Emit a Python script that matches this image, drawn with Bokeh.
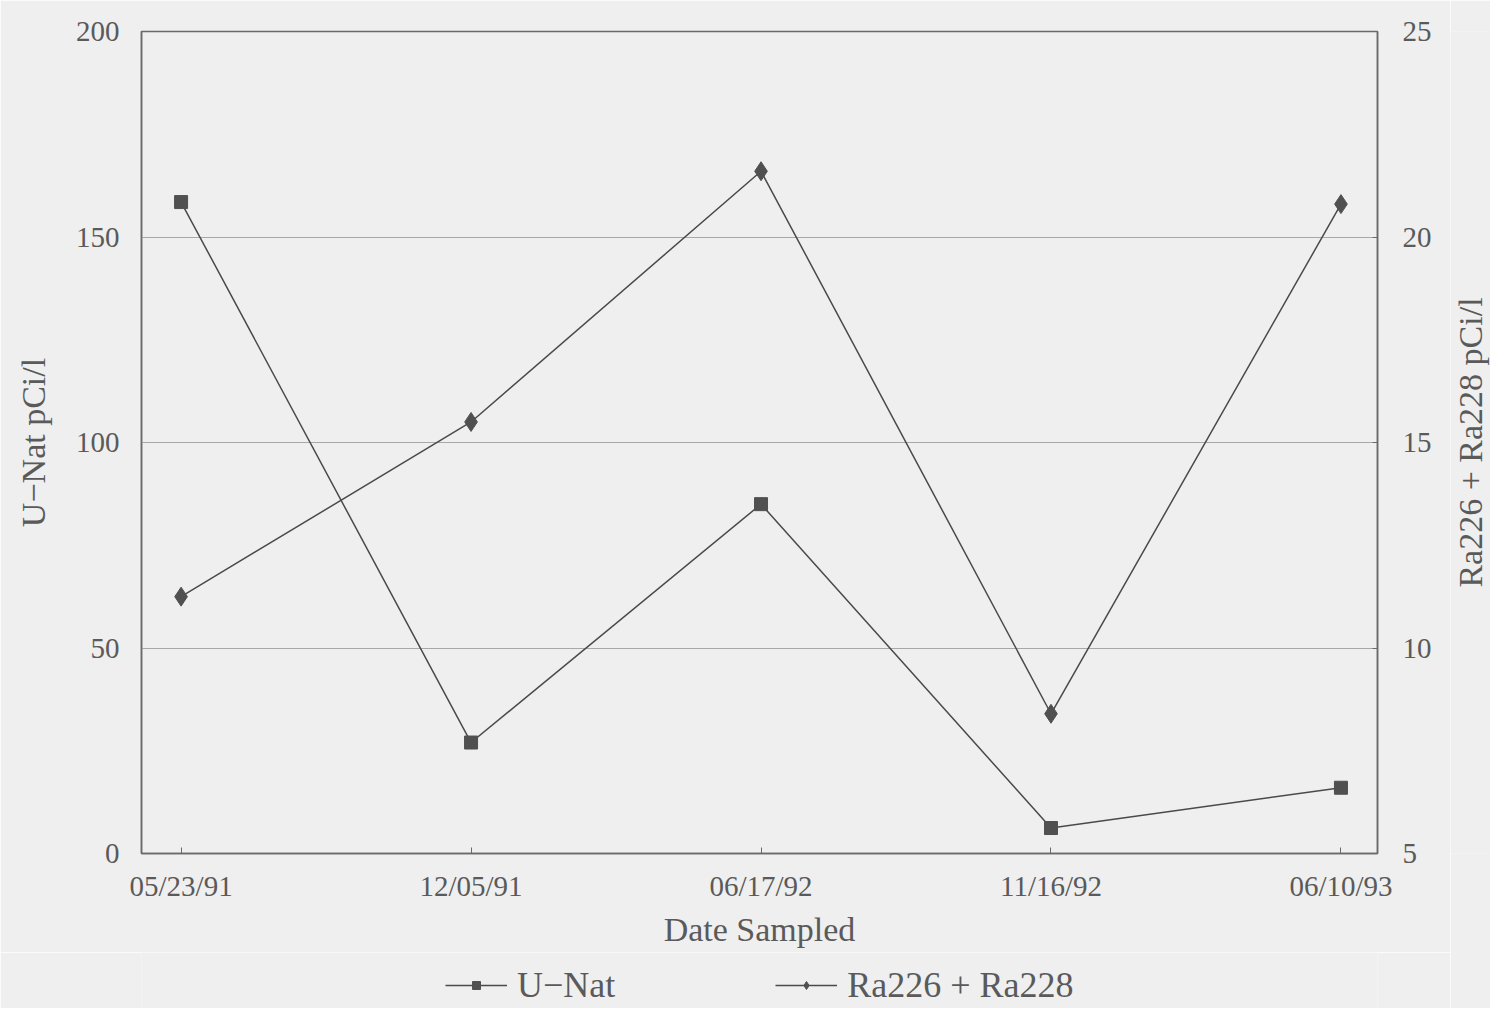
import math
from bokeh.plotting import figure
from bokeh.layouts import column, row
from bokeh.models import Range1d, LinearAxis, FixedTicker, Legend, LegendItem, Label
from bokeh.embed import file_html
from bokeh.resources import INLINE

dates = ["05/23/91", "12/05/91", "06/17/92", "11/16/92", "06/10/93"]
u_nat = [158.5, 27, 85, 6.2, 16]
ra = [11.25, 15.5, 21.6, 8.4, 20.8]
left_ticks = [0, 50, 100, 150, 200]
right_ticks = [5, 10, 15, 20, 25]

xs = list(range(len(dates)))
FONT = "Liberation Serif"
TXT = "#5a5a5a"
LINE = "#4a4a4a"
MARK = "#505050"
BG = "#efefef"

p = figure(width=1450, height=952, output_backend="svg", toolbar_location=None,
           x_range=Range1d(-0.1365, 4.126), y_range=Range1d(0, 200),
           background_fill_color=BG, border_fill_color=BG,
           min_border_left=141, min_border_right=73, min_border_top=31, min_border_bottom=99)
p.extra_y_ranges = {"ra": Range1d(5, 25)}

p.outline_line_color = "#6a6a6a"
p.outline_line_width = 1.5
p.xgrid.visible = False
p.ygrid.ticker = FixedTicker(ticks=left_ticks)
p.ygrid.grid_line_color = "#a8a8a8"
p.ygrid.grid_line_width = 1.2

# x axis
xa = p.xaxis[0]
xa.ticker = FixedTicker(ticks=xs)
xa.major_label_overrides = {i: d for i, d in enumerate(dates)}
xa.axis_label = "Date Sampled"
xa.minor_tick_line_color = None
xa.major_tick_in = 6
xa.major_tick_out = 0
xa.major_tick_line_color = "#6a6a6a"
xa.axis_line_color = "#6a6a6a"
xa.axis_line_width = 1.5
xa.major_label_standoff = 16
xa.axis_label_standoff = 6

# left axis
ya = p.yaxis[0]
ya.ticker = FixedTicker(ticks=left_ticks)
ya.axis_label = "U\u2212Nat pCi/l"
ya.minor_tick_line_color = None
ya.major_tick_in = 0
ya.major_tick_out = 0
ya.axis_line_color = "#6a6a6a"
ya.axis_line_width = 1.5
ya.major_label_standoff = 22
ya.axis_label_standoff = 21

# right axis (its title is drawn in the narrow strip to the right so it reads bottom-to-top)
ra_axis = LinearAxis(y_range_name="ra", ticker=FixedTicker(ticks=right_ticks))
ra_axis.minor_tick_line_color = None
ra_axis.major_tick_in = 5
ra_axis.major_tick_out = 0
ra_axis.major_tick_line_color = "#6a6a6a"
ra_axis.axis_line_color = "#6a6a6a"
ra_axis.axis_line_width = 1.5
ra_axis.major_label_standoff = 25
p.add_layout(ra_axis, "right")

for ax in [xa, ya, ra_axis]:
    ax.major_label_text_font = FONT
    ax.major_label_text_font_size = "29px"
    ax.major_label_text_color = TXT
    ax.axis_label_text_font = FONT
    ax.axis_label_text_font_size = "34px"
    ax.axis_label_text_font_style = "normal"
    ax.axis_label_text_color = TXT

# series
p.line(xs, u_nat, line_color=LINE, line_width=1.5)
p.scatter(xs, u_nat, marker="square", size=13, fill_color=MARK, line_color=MARK)
p.line(xs, ra, y_range_name="ra", line_color=LINE, line_width=1.5)
p.scatter(xs, ra, y_range_name="ra", marker="diamond", size=19, fill_color=MARK, line_color=MARK)

# legend strip below the chart (series drawn out of view, only their legend samples show)
lg = figure(width=1450, height=56, output_backend="svg", toolbar_location=None,
            x_axis_location=None, y_axis_location=None,
            x_range=Range1d(-0.1365, 4.126), y_range=Range1d(-1000, -900),
            background_fill_color=BG, border_fill_color=BG,
            min_border=0)
lg.outline_line_color = None
lg.grid.visible = False
g1 = lg.line(xs, u_nat, line_color=LINE, line_width=1.5)
s1 = lg.scatter(xs, u_nat, marker="square", size=13, fill_color=MARK, line_color=MARK)
g2 = lg.line(xs, ra, line_color=LINE, line_width=1.5)
s2 = lg.scatter(xs, ra, marker="diamond", size=19, fill_color=MARK, line_color=MARK)

legend = Legend(items=[LegendItem(label="U\u2212Nat", renderers=[g1, s1]),
                       LegendItem(label="Ra226 + Ra228", renderers=[g2, s2])],
                orientation="horizontal", location=(304, 2))
legend.background_fill_alpha = 0
legend.border_line_color = None
legend.label_text_font = FONT
legend.label_text_font_size = "36px"
legend.label_text_color = TXT
legend.glyph_width = 62
legend.spacing = 160
legend.label_standoff = 10
legend.padding = 0
legend.margin = 0
lg.add_layout(legend)

# narrow strip holding the right axis title
rt = figure(width=40, height=1008, output_backend="svg", toolbar_location=None,
            x_axis_location=None, y_axis_location=None,
            x_range=Range1d(0, 1), y_range=Range1d(0, 1),
            background_fill_color=BG, border_fill_color=BG,
            min_border_left=0, min_border_right=0, min_border_top=31, min_border_bottom=155)
rt.outline_line_color = None
rt.grid.visible = False
rt.add_layout(Label(x=0.5, y=0.5, text="Ra226 + Ra228 pCi/l", angle=math.pi / 2,
                    text_align="center", text_baseline="middle",
                    text_font=FONT, text_font_size="34px", text_color=TXT))

layout = row(column(p, lg, spacing=0), rt, spacing=0)
open("out.html", "w").write(file_html(layout, INLINE))
